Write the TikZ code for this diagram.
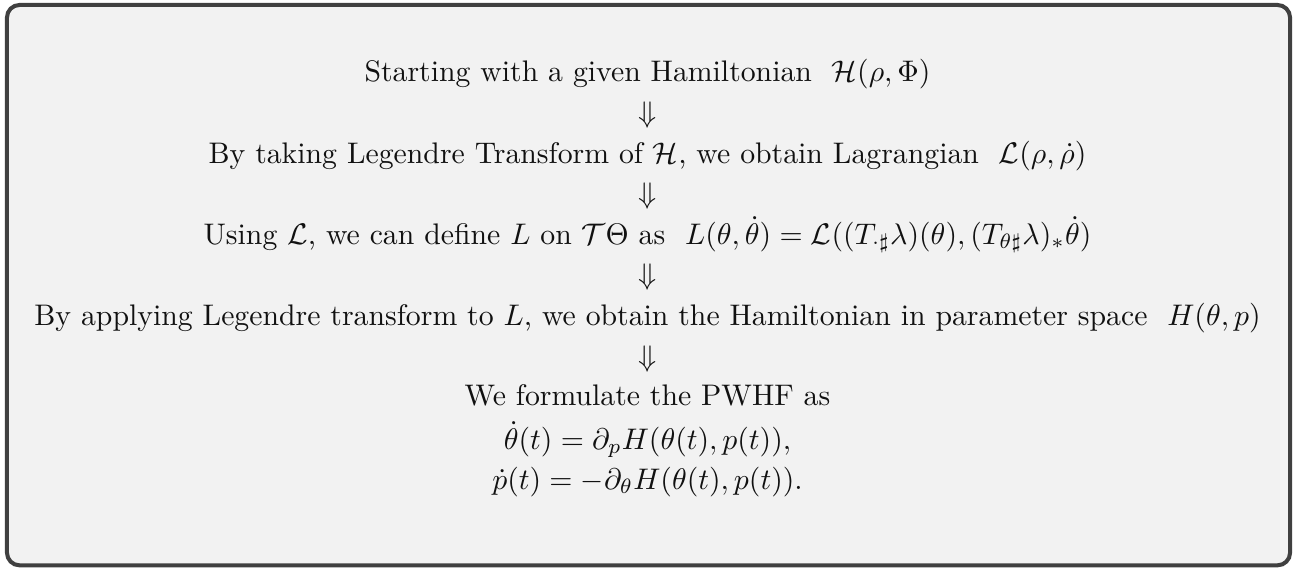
\documentclass[tikz,border=0pt]{standalone}
\usepackage{amsmath,amssymb}
\usetikzlibrary{positioning}
\definecolor{pwink}{HTML}{111111}
\definecolor{pwframe}{HTML}{404040}
\definecolor{pwpale}{HTML}{F2F2F2}
\tikzset{
  pw frame/.style={draw=pwframe, line width=1.35pt, rounded corners=4.2pt, fill=pwpale},
  pw line/.style={anchor=base, inner sep=0pt, text=pwink},
  pw arrow/.style={anchor=base, inner sep=0pt, text=pwink}
}
\begin{document}
\begin{tikzpicture}[x=0.8368pt, y=0.8368pt]
  \useasboundingbox (0,0) rectangle (520,229);
  \draw[pw frame] (2.8,2) rectangle (518,227);
  % steps of the derivation
  \node[pw line] (start) at (260,196.3) {Starting with a given Hamiltonian \ $\mathcal{H}(\rho,\Phi)$};
  \node[pw line] (lagr) at (260,163.5) {By taking Legendre Transform of $\mathcal{H}$, we obtain Lagrangian \ $\mathcal{L}(\rho,\dot{\rho})$};
  \node[pw line] (liftL) at (260,130.9) {Using $\mathcal{L}$, we can define $L$ on $\mathcal{T}\Theta$ as \ $L(\theta,\dot{\theta})=\mathcal{L}((T_{\cdot\sharp}\lambda)(\theta),(T_{\theta\sharp}\lambda)_{*}\dot{\theta})$};
  \node[pw line] (hamP) at (260,98.3) {By applying Legendre transform to $L$, we obtain the Hamiltonian in parameter space \ $H(\theta,p)$};
  \node[pw line] (pwhf) at (260,66.2) {We formulate the PWHF as};
  \node[pw line] (eqTheta) at (260,48.5) {$\dot{\theta}(t)=\partial_{p}H(\theta(t),p(t)),$};
  \node[pw line] (eqP) at (260,32.5) {$\dot{p}(t)=-\partial_{\theta}H(\theta(t),p(t)).$};
  % implication arrows
  \foreach \y [count=\i] in {179.8,147.2,114.6,82}
    \node[pw arrow] (dn\i) at (260,\y) {$\Downarrow$};
\end{tikzpicture}
\end{document}
